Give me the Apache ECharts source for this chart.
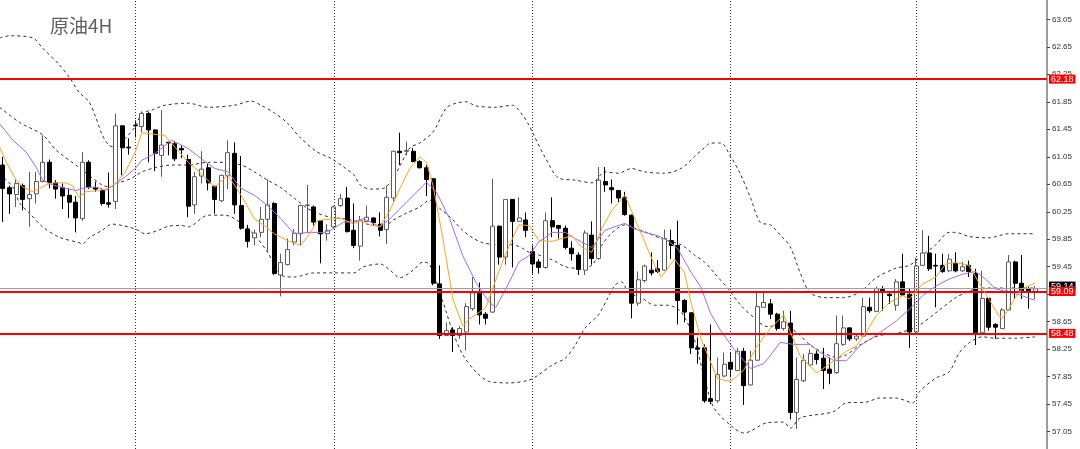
<!DOCTYPE html>
<html>
<head>
<meta charset="utf-8">
<script src="https://cdn.jsdelivr.net/npm/echarts@6/dist/echarts.min.js"></script>
<style>
html,body{margin:0;padding:0;background:#fff;}
#c{width:1080px;height:449px;}
</style>
</head>
<body>
<div id="c"></div>
<script>
// ---- candle data (4H bars, oldest first) ----
var opens = [60.93,60.60,60.50,60.63,60.44,60.51,60.69,60.97,60.67,60.60,60.49,60.39,60.15,60.97,60.60,60.56,60.38,60.40,61.50,61.19,
61.51,61.49,61.68,61.44,61.07,61.26,61.24,61.17,61.01,60.35,60.77,60.89,60.62,60.41,60.78,61.10,60.34,60.00,59.87,59.95,
60.14,60.37,59.33,59.48,59.81,59.93,60.34,60.32,60.12,59.93,60.03,60.34,60.45,59.98,59.75,60.11,60.16,60.07,59.99,60.45,
61.13,61.13,61.13,60.98,60.89,60.73,59.20,58.45,58.53,58.45,58.50,58.84,59.09,58.76,58.79,60.04,59.59,60.43,60.11,60.13,
59.67,59.52,59.44,60.12,60.05,60.01,59.72,59.62,59.40,59.91,59.57,60.69,60.60,60.56,60.46,60.20,58.92,59.25,59.40,59.42,
59.40,59.83,59.76,58.96,58.78,58.27,58.27,57.53,57.50,57.86,58.06,57.94,58.22,57.73,58.09,58.86,58.91,58.76,58.55,58.63,
57.33,57.79,58.02,58.18,58.12,57.96,57.91,58.32,58.56,58.40,58.44,58.86,58.80,59.12,59.05,58.89,59.23,59.05,58.50,59.47,
59.65,59.47,59.47,59.39,59.50,59.39,59.47,59.35,58.49,58.99,58.61,58.55,58.82,59.52,59.21,59.13,59.09];
var closes = [60.59,60.51,60.66,60.43,60.50,60.69,60.97,60.67,60.58,60.48,60.39,60.16,60.97,60.61,60.58,60.37,60.36,61.50,61.18,61.18,
61.50,61.68,61.44,61.10,61.22,61.25,61.02,61.15,60.33,60.76,60.87,60.67,60.43,60.78,61.11,60.35,60.01,59.82,59.94,60.14,
60.35,59.35,59.51,59.70,59.94,60.34,60.35,60.10,59.93,59.98,60.32,60.44,59.96,59.76,60.12,60.17,60.09,59.98,60.46,61.13,
61.11,61.14,60.98,60.89,60.72,59.21,58.45,58.52,58.45,58.55,58.87,59.07,58.75,58.70,60.04,59.59,60.43,60.11,60.16,59.98,
59.49,59.44,60.12,60.03,60.01,59.73,59.64,59.41,59.94,59.57,60.71,60.64,60.57,60.45,60.21,58.92,59.26,59.46,59.36,59.38,
59.86,59.76,58.96,58.79,58.27,58.25,57.50,57.49,57.88,58.03,57.96,58.22,57.72,58.09,58.87,58.93,58.76,58.55,58.65,57.33,
57.81,58.09,58.19,58.10,57.94,57.90,58.33,58.56,58.40,58.44,58.87,58.81,59.13,59.08,59.03,59.23,59.04,58.50,59.46,59.65,
59.42,59.46,59.38,59.56,59.39,59.45,59.38,58.49,58.99,58.57,58.57,58.82,59.52,59.21,59.09,59.10,59.13];
var lows = [60.10,60.22,60.32,60.27,60.03,60.37,60.68,60.59,60.44,60.29,60.16,59.95,60.12,60.58,60.54,60.34,60.31,60.29,60.78,61.08,
61.33,61.41,60.97,60.84,60.76,61.07,60.99,61.03,60.17,60.22,60.66,60.56,60.22,60.39,60.58,60.22,59.99,59.73,59.76,59.88,
59.66,59.33,59.02,59.47,59.76,59.76,59.94,60.05,59.50,59.83,60.00,60.32,59.95,59.72,59.54,60.10,60.05,59.89,59.78,60.40,
60.93,61.07,60.97,60.88,60.48,59.18,58.40,58.44,58.21,58.40,58.23,58.81,58.61,58.61,58.78,59.48,59.48,59.44,60.11,59.88,
59.35,59.35,59.42,59.88,59.86,59.70,59.54,59.33,59.33,59.48,59.55,60.54,60.37,60.38,60.19,58.70,58.88,59.22,59.32,59.36,
59.39,59.56,58.61,58.64,58.18,58.04,57.47,57.45,57.47,57.84,57.84,57.93,57.44,57.72,58.08,58.86,58.69,58.52,58.52,57.23,
57.09,57.77,58.01,58.03,57.67,57.74,57.89,58.30,58.37,58.37,58.44,58.78,58.80,58.81,58.91,58.81,59.03,58.27,58.47,59.46,
59.39,58.86,59.36,59.37,59.37,59.37,59.30,58.31,58.49,58.52,58.40,58.55,58.82,58.98,58.98,58.84,58.98];
var highs = [61.05,60.63,60.72,60.66,60.83,60.83,61.36,61.01,60.71,60.66,60.59,60.48,61.12,61.00,60.69,60.59,60.82,61.68,61.51,61.32,
61.58,61.71,61.70,61.45,61.73,61.27,61.27,61.22,61.08,60.83,61.13,60.95,60.63,60.79,61.29,61.26,61.06,60.06,59.99,60.32,
60.72,60.39,59.64,59.86,60.00,60.35,60.64,60.34,60.12,60.07,60.34,60.51,60.61,60.37,60.19,60.34,60.17,60.24,60.63,61.14,
61.40,61.27,61.18,61.00,60.93,60.74,59.47,58.64,58.57,58.59,58.92,59.30,59.22,58.79,60.73,60.05,60.43,60.43,60.46,60.24,
59.76,59.56,60.24,60.46,60.06,60.05,59.82,59.66,59.98,60.11,60.90,60.90,60.72,60.56,60.54,60.21,59.38,59.48,59.66,59.55,
59.99,59.99,60.12,58.98,58.78,58.42,58.32,58.61,58.13,58.20,58.20,58.27,58.27,58.23,59.08,59.08,58.98,58.78,58.81,58.81,
58.13,58.18,58.25,58.23,58.27,58.13,58.74,58.74,58.57,58.46,59.00,59.00,59.16,59.17,59.08,59.27,59.64,59.13,59.58,59.98,
59.90,59.64,59.64,59.64,59.66,59.52,59.54,59.42,59.39,59.00,58.63,58.85,59.62,59.54,59.62,59.16,59.17];

// ---- indicator readings: [bar index, price] ----
var bbUpper = [[-0.5,62.78],[1,62.81],[4.5,62.78],[6,62.63],[8.5,62.39],[10,62.21],[11.5,61.99],[13,61.85],[14,61.63],[15,61.37],[16,61.22],[17,61.19],[18.5,61.32],[20,61.49],[21,61.68],[22.5,61.73],[24.5,61.80],[28,61.83],[31,61.77],[35,61.80],[37.5,61.86],[39,61.80],[41,61.69],[43,61.54],[45,61.32],[47.5,61.12],[49.5,61.03],[51.5,60.90],[53,60.79],[54,60.64],[55.5,60.58],[57.5,60.59],[59.5,60.83],[61.5,61.18],[63,61.25],[65,61.41],[67,61.76],[68.5,61.83],[70,61.85],[71.5,61.79],[74.5,61.77],[77,61.80],[78.5,61.66],[79.5,61.51],[80,61.41],[82,61.03],[84,60.74],[86.5,60.71],[89,60.67],[91,60.83],[93,60.81],[95,60.88],[97,60.83],[100,60.81],[102.5,60.88],[104.5,61.05],[106,61.18],[107,61.25],[108.5,61.25],[110,61.05],[111.5,60.79],[113,60.45],[114.5,60.09],[116,60.06],[117.5,59.91],[119,59.74],[120.5,59.36],[122,59.07],[124.5,59.00],[127,59.00],[129.5,59.08],[132,59.29],[135,59.43],[137,59.47],[139,59.62],[141,59.77],[143,59.95],[144,59.95],[146,59.89],[149,59.87],[152,59.93],[156,59.93]];
var bbMiddle = [[-0.5,61.77],[2.5,61.55],[6,61.37],[8,61.15],[11,60.93],[13,60.78],[15,60.64],[16,60.61],[17.5,60.67],[19.5,60.74],[21,60.83],[23,60.89],[25.5,60.93],[28,60.93],[31,60.97],[33.5,60.97],[36,60.93],[38,60.83],[40,60.71],[42,60.60],[44,60.45],[46,60.30],[47.5,60.23],[49.5,60.17],[52,60.14],[53,60.12],[55.5,60.06],[57.5,60.03],[59,60.13],[61,60.23],[63,60.32],[64.5,60.42],[66,60.30],[67.5,60.18],[69.5,59.98],[71,59.87],[72.5,59.80],[75,59.77],[77,59.77],[78.5,59.72],[79.5,59.66],[81,59.62],[83,59.55],[85,59.45],[86.5,59.43],[89,59.47],[90.5,59.76],[92,59.94],[94,60.06],[95.5,60.01],[97.5,59.94],[100,59.84],[102.5,59.77],[104.5,59.62],[106,59.52],[107.5,59.36],[109.5,59.14],[111.5,58.89],[113.5,58.71],[115.5,58.58],[118,58.60],[120,58.49],[122,58.31],[124,58.20],[126,58.13],[127.5,58.17],[129.5,58.31],[131,58.39],[132.5,58.45],[135,58.48],[138,58.57],[141,58.78],[144,59.00],[146.5,59.11],[148,59.14],[156,59.14]];
var bbLower = [[-0.5,60.80],[1.5,60.61],[2.5,60.38],[4,60.23],[6,60.03],[8.5,59.88],[11.5,59.80],[12,59.78],[13,59.87],[15,59.98],[16.5,60.07],[18,60.05],[20,60.00],[21.5,59.93],[23.5,59.98],[25,60.04],[27,60.05],[28,60.03],[31,60.20],[33.5,60.20],[37.5,59.96],[40,59.66],[42,59.33],[44,59.30],[47,59.36],[50,59.36],[53,59.36],[54.5,59.45],[57,59.49],[58.5,59.40],[60,59.29],[62,59.40],[63.5,59.52],[64.5,59.48],[66.5,58.94],[68,58.50],[69.5,58.17],[71.5,57.92],[73.5,57.78],[76.5,57.76],[79.5,57.80],[81,57.88],[83,58.02],[85,58.12],[86.5,58.31],[88,58.56],[90,58.75],[91.5,59.01],[92.5,59.18],[93.5,59.23],[94.5,59.08],[96.5,59.00],[98.5,58.89],[100.5,58.89],[102.5,58.79],[104.5,58.39],[106,57.84],[107.5,57.39],[110.5,57.10],[112,57.03],[115.5,57.18],[118,57.19],[119,57.10],[120.5,57.25],[125.5,57.34],[127.5,57.47],[130.5,57.48],[132.5,57.54],[135,57.54],[137.5,57.47],[138.5,57.63],[141,57.83],[143,57.92],[144.5,58.19],[146,58.34],[148,58.43],[150,58.41],[153,58.41],[156,58.43]];
var maFast = [[-0.5,61.19],[0.5,60.97],[2,60.71],[3,60.61],[4.5,60.54],[5.5,60.59],[6.5,60.64],[7.5,60.67],[9.5,60.67],[10.5,60.63],[11.5,60.46],[12.5,60.54],[14.5,60.56],[16,60.59],[17,60.66],[18.5,60.83],[20,61.12],[21,61.40],[23.5,61.37],[24.5,61.36],[26,61.19],[28,60.97],[30,60.80],[32,60.61],[34,60.78],[36,60.49],[38,60.15],[39.5,60.05],[41,59.93],[43,59.83],[45,59.76],[46.5,59.95],[47.5,60.12],[50,60.15],[51,60.16],[53,60.07],[54,60.12],[55.5,60.06],[57,60.03],[58.5,60.27],[60,60.59],[61.5,60.88],[63,61.05],[64,60.97],[65,60.63],[66.5,59.86],[68,58.98],[69.5,58.59],[70.5,58.69],[72,58.79],[73,58.86],[74,59.13],[75.5,59.52],[77,59.86],[78,60.06],[79.5,60.05],[81,59.83],[83,59.82],[86,59.90],[87.5,59.73],[89,59.66],[90.5,60.00],[92,60.27],[94,60.49],[95.5,60.15],[97,59.81],[98.5,59.47],[99.5,59.30],[101.5,59.56],[103,59.37],[104,58.93],[105.5,58.40],[108,57.82],[110,57.78],[112,57.95],[114,58.30],[116,58.55],[118,58.75],[119,58.50],[120.5,58.15],[123,57.90],[125.5,58.08],[127.5,58.22],[129,58.30],[130.5,58.50],[132,58.74],[134,58.93],[136,59.03],[137,58.98],[139,59.20],[141,59.30],[142.5,59.49],[144,59.51],[146,59.47],[147.5,59.22],[149,58.98],[150.5,58.74],[151,58.70],[152,58.83],[153,59.00],[154,59.13],[155,59.17],[156,59.21]];
var maSlow = [[-0.5,61.53],[1.5,61.29],[3.5,61.12],[5,60.90],[6,60.71],[7.5,60.64],[9.5,60.59],[11,60.56],[12.5,60.60],[14,60.61],[15.5,60.56],[17,60.66],[18.5,60.76],[20,60.88],[21,61.00],[23,61.10],[25.5,61.29],[28,61.17],[30,61.02],[32,60.88],[34,60.83],[36,60.59],[38,60.49],[40,60.34],[42,60.15],[44,59.93],[46.5,59.95],[48.5,59.95],[49.5,59.98],[51.5,60.10],[53,60.10],[54.5,60.15],[57,60.03],[58.5,60.15],[61,60.39],[64,60.68],[65.5,60.54],[67.5,60.15],[69.5,59.61],[71.5,59.22],[73.5,58.93],[74.5,58.86],[76.5,59.22],[78,59.52],[79.5,59.61],[81,59.81],[83,59.95],[85,59.95],[86.5,59.86],[89,59.73],[91,59.98],[93,60.05],[94,60.08],[95.5,60.00],[97,59.95],[99,59.90],[100.5,59.83],[102,59.71],[104,59.37],[105.5,59.15],[107,58.76],[108.5,58.52],[110.5,58.25],[113,57.97],[115,58.04],[117.5,58.35],[119.5,58.32],[122,58.32],[123.5,58.20],[125.5,58.09],[127.5,58.08],[129.5,58.30],[131.5,58.42],[135,58.66],[137,58.83],[139,59.03],[141,59.17],[143,59.27],[145,59.34],[147,59.38],[148.5,59.27],[150,59.13],[152,59.08],[154,59.03],[156,58.96]];

// ---- reference levels and axis ticks ----
var levels = [62.18, 59.09, 58.48];
var currentPrice = 59.14;
var dayBreaks = [20, 50, 80, 110, 138];
var yTicks = [57.05,57.45,57.85,58.25,58.65,59.05,59.45,59.85,60.25,60.65,61.05,61.45,61.85,62.25,62.65,63.05];
var title = '原油4H';

var candles = opens.map(function (o, i) { return [i, o, closes[i], lows[i], highs[i]]; });

var chart = echarts.init(document.getElementById('c'), null, {renderer: 'canvas'});

var markData = dayBreaks.map(function (d) {
  return {xAxis: d, lineStyle: {color: '#333', width: 1, type: [1, 2]}, label: {show: false}};
});
markData.push({
  yAxis: currentPrice,
  lineStyle: {color: '#97a0b3', width: 1, type: 'solid'},
  label: {show: true, position: 'end', distance: 2, formatter: currentPrice.toFixed(2),
    backgroundColor: '#000', color: '#fff', fontSize: 9, fontFamily: 'Liberation Sans',
    padding: [0, 2], lineHeight: 9, offset: [0, -2]}
});
levels.forEach(function (v) {
  markData.push({
    yAxis: v,
    lineStyle: {color: '#ff0000', width: 2, type: 'solid'},
    label: {show: true, position: 'end', distance: 2, formatter: v.toFixed(2),
      backgroundColor: '#ff0000', color: '#fff', fontSize: 9, fontFamily: 'Liberation Sans',
      padding: [0, 2], lineHeight: 9}
  });
});

function band(name, data) {
  return {
    name: name, type: 'line', data: data, symbol: 'none', smooth: 0.3, silent: true,
    lineStyle: {color: '#333', width: 1, type: [3, 3]}, z: 1
  };
}

chart.setOption({
  animation: false,
  backgroundColor: '#ffffff',
  grid: {left: 0, right: 33, top: 0, bottom: 0, outerBoundsMode: 'none'},
  xAxis: {type: 'value', min: -0.45, max: 157.8, show: false,
    axisLine: {onZero: false}},
  yAxis: {
    type: 'value', position: 'right', min: 56.798, max: 63.331, scale: true,
    splitLine: {show: false},
    axisLine: {show: true, onZero: false, lineStyle: {color: '#9c9c9c', width: 2}},
    axisTick: {show: true, length: 3, customValues: yTicks, lineStyle: {color: '#444'}},
    axisLabel: {show: true, customValues: yTicks, fontSize: 8, color: '#333', margin: 5,
      fontFamily: 'Liberation Sans', formatter: function (v) { return Number(v).toFixed(2); }}
  },
  graphic: [{
    type: 'text', left: 50, top: 16, z: 100,
    style: {text: title, fontSize: 19, fill: '#606060', fontFamily: 'Noto Sans CJK SC'}
  }],
  series: [
    band('bbUpper', bbUpper),
    band('bbMiddle', bbMiddle),
    band('bbLower', bbLower),
    {
      name: 'candles', type: 'candlestick', data: candles, barWidth: 4.5, z: 3,
      encode: {x: 0, y: [1, 2, 3, 4]},
      itemStyle: {color: '#ffffff', color0: '#000000', borderColor: '#5c5c5c', borderColor0: '#000000', borderColorDoji: '#000000', borderWidth: 1},
      markLine: {symbol: ['none', 'none'], silent: true, animation: false, data: markData}
    },
    {name: 'maSlow', type: 'line', data: maSlow, symbol: 'none', silent: true, z: 4,
      lineStyle: {color: '#a46af0', width: 1}},
    {name: 'maFast', type: 'line', data: maFast, symbol: 'none', silent: true, z: 5,
      lineStyle: {color: '#ffa31a', width: 1}}
  ]
});
</script>
</body>
</html>
